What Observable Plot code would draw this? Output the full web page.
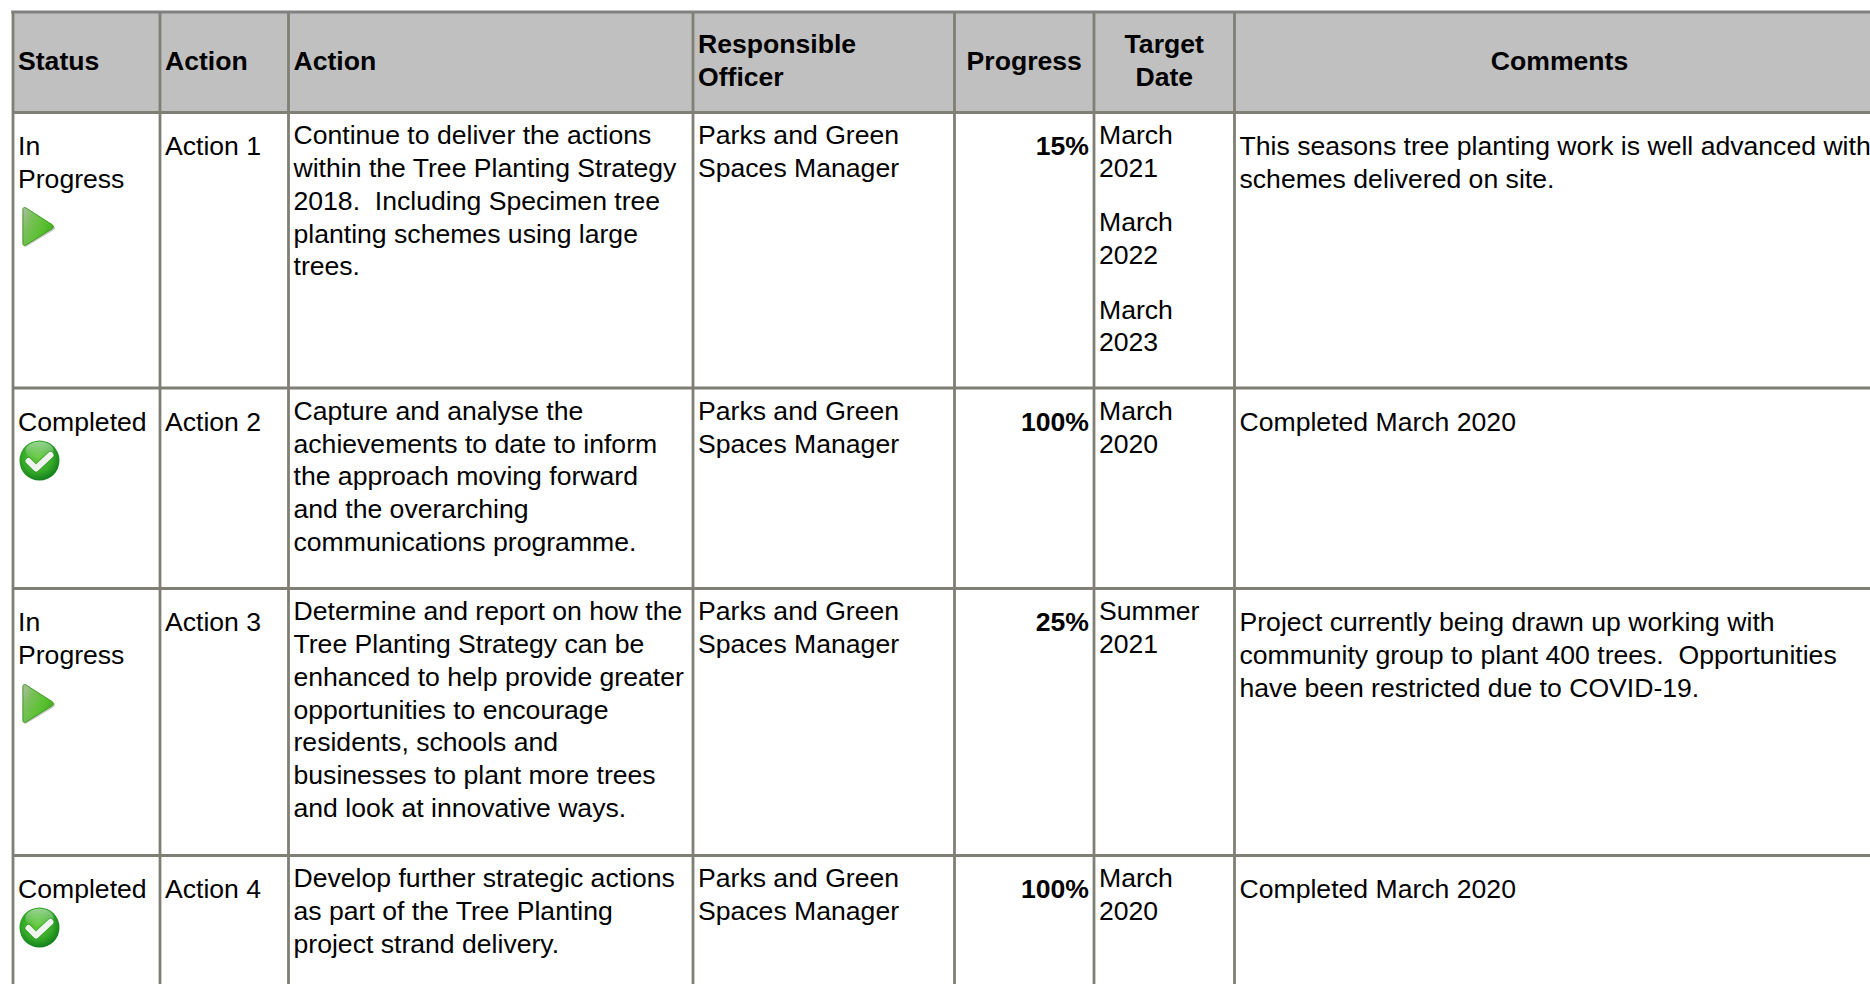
<!DOCTYPE html>
<html><head><meta charset="utf-8">
<script src="https://cdn.jsdelivr.net/npm/d3@7"></script>
<script src="https://cdn.jsdelivr.net/npm/@observablehq/plot@0.6"></script>
<style>html,body{margin:0;padding:0;background:#fff;overflow:hidden}svg{display:block}</style>
</head><body><div id="chart"></div>
<script>
const headers = ["Status","Action","Action","Responsible\nOfficer","Progress","Target\nDate","Comments"];
const statuses = ["In\nProgress","Completed","In\nProgress","Completed"];
const actionIds = ["Action 1","Action 2","Action 3","Action 4"];
const descriptions = [
 "Continue to deliver the actions\nwithin the Tree Planting Strategy\n2018.  Including Specimen tree\nplanting schemes using large\ntrees.",
 "Capture and analyse the\nachievements to date to inform\nthe approach moving forward\nand the overarching\ncommunications programme.",
 "Determine and report on how the\nTree Planting Strategy can be\nenhanced to help provide greater\nopportunities to encourage\nresidents, schools and\nbusinesses to plant more trees\nand look at innovative ways.",
 "Develop further strategic actions\nas part of the Tree Planting\nproject strand delivery."];
const officers = ["Parks and Green\nSpaces Manager","Parks and Green\nSpaces Manager","Parks and Green\nSpaces Manager","Parks and Green\nSpaces Manager"];
const progress = ["15%","100%","25%","100%"];
const targetDates = [["March\n2021","March\n2022","March\n2023"],["March\n2020"],["Summer\n2021"],["March\n2020"]];
const comments = [
 "This seasons tree planting work is well advanced with\nschemes delivered on site.",
 "Completed March 2020",
 "Project currently being drawn up working with\ncommunity group to plant 400 trees.  Opportunities\nhave been restricted due to COVID-19.",
 "Completed March 2020"];

// layout of the table grid
const colEdges = [12.5,159.5,288,692.5,954,1093.5,1234,1884];
const rowEdges = [11.5,112,387.5,588,855,1000];
const FS = 26.6, LH = 32.8;
const lh = LH/FS;
const W = 1870, H = 984;

const triangleSvg = `<svg xmlns="http://www.w3.org/2000/svg" viewBox="0 0 36 44"><defs><linearGradient id="g" x1="0" y1="0" x2="1" y2="0.55"><stop offset="0" stop-color="#b3bca9"/><stop offset="0.3" stop-color="#7cc05e"/><stop offset="0.75" stop-color="#57c02c"/><stop offset="1" stop-color="#46ad24"/></linearGradient></defs><path d="M5 4 Q3.5 3 3.5 5.5 L3.5 39.5 Q3.5 42.2 6 41 L33.5 24.4 Q35.6 22.6 33.5 21 Z" fill="#a9a9a9" opacity=".65"/><path d="M5.4 2.4 Q2.4 1 2.4 4.4 L2.4 37.8 Q2.4 41 5.4 39.6 L31.8 23.2 Q34.2 21.2 31.8 19.2 Z" fill="url(#g)" stroke="#3f9a22" stroke-width="1"/></svg>`;
const checkSvg = `<svg xmlns="http://www.w3.org/2000/svg" viewBox="0 0 42 42"><defs><radialGradient id="c" cx="0.45" cy="0.42" r="0.62"><stop offset="0" stop-color="#66cc3e"/><stop offset="0.6" stop-color="#35aa28"/><stop offset="1" stop-color="#0c781c"/></radialGradient><linearGradient id="h" x1="0" y1="0" x2="0" y2="1"><stop offset="0" stop-color="#fff" stop-opacity=".5"/><stop offset="1" stop-color="#fff" stop-opacity="0"/></linearGradient></defs><circle cx="21" cy="21" r="20" fill="url(#c)"/><ellipse cx="21" cy="11" rx="14" ry="9" fill="url(#h)"/><path d="M10 21.5 L17.5 29 L32 15.5" fill="none" stroke="#0c6a18" stroke-opacity=".35" stroke-width="7.4" stroke-linecap="round" stroke-linejoin="round"/><path d="M10 21.5 L17.5 29 L32 15.5" fill="none" stroke="#f0f4ee" stroke-width="6" stroke-linecap="round" stroke-linejoin="round"/></svg>`;
const uri = s => "data:image/svg+xml;charset=utf-8," + encodeURIComponent(s);

// Top of the first line of each kind of cell, relative to the row's top edge
const inset = {tall: 19.3, mid: 8.5};
const pad = 5;

const headerCells = headers.map((text,i)=>({
  text, i,
  x: i<4 ? colEdges[i] : (colEdges[i]+colEdges[i+1])/2,
  anchor: i<4 ? "start" : "middle",
  y: (rowEdges[0]+rowEdges[1])/2 - 3
}));
const cells = [];
statuses.forEach((_,r)=>{
  const top = rowEdges[r+1];
  cells.push({x:colEdges[0],y:top+inset.tall,text:statuses[r]});
  cells.push({x:colEdges[1],y:top+inset.tall,text:actionIds[r]});
  cells.push({x:colEdges[2],y:top+inset.mid,text:descriptions[r]});
  cells.push({x:colEdges[3],y:top+inset.mid,text:officers[r]});
  targetDates[r].forEach((d,k)=>cells.push({x:colEdges[5],y:top+inset.mid+k*87.2,text:d}));
  cells.push({x:colEdges[6],y:top+inset.tall,text:comments[r]});
});
const progressCells = progress.map((text,r)=>({x:colEdges[5],y:rowEdges[r+1]+inset.tall,text}));
const icons = [
 {x:38,y:227,w:36,h:44,src:uri(triangleSvg)},
 {x:39,y:460,w:42,h:42,src:uri(checkSvg)},
 {x:38,y:704,w:36,h:44,src:uri(triangleSvg)},
 {x:39,y:927,w:42,h:42,src:uri(checkSvg)}];

const gridColor = "#7f7f75";
const chart = Plot.plot({
  width:W,height:H,margin:0,
  x:{domain:[0,W],range:[0,W],axis:null},
  y:{domain:[0,H],range:[0,H],axis:null},
  style:{background:"#fff",fontFamily:"'Liberation Sans',Arial,sans-serif"},
  marks:[
    Plot.rect([0],{x1:()=>colEdges[0],x2:()=>W,y1:()=>rowEdges[0],y2:()=>rowEdges[1],fill:"#c0c0c0"}),
    Plot.ruleX(colEdges.slice(0,7),{y1:rowEdges[0],y2:H,stroke:gridColor,strokeWidth:2.8}),
    Plot.ruleY(rowEdges.slice(1,5),{x1:colEdges[0],x2:W,stroke:gridColor,strokeWidth:3}),
    Plot.ruleY([rowEdges[0]],{x1:colEdges[0]-1.3,x2:W,stroke:"#808080",strokeWidth:3}),
    Plot.text(headerCells.filter(d=>d.anchor=="start"),{x:"x",y:"y",text:"text",dx:pad,textAnchor:"start",lineAnchor:"middle",lineHeight:lh,fontSize:FS,fontWeight:"bold",fill:"#000"}),
    Plot.text(headerCells.filter(d=>d.anchor=="middle"),{x:"x",y:"y",text:"text",textAnchor:"middle",lineAnchor:"middle",lineHeight:lh,fontSize:FS,fontWeight:"bold",fill:"#000"}),
    Plot.text(cells,{x:"x",y:"y",text:"text",dx:pad,textAnchor:"start",lineAnchor:"top",lineHeight:lh,fontSize:FS,fill:"#000"}),
    Plot.text(progressCells,{x:"x",y:"y",text:"text",dx:-5,textAnchor:"end",lineAnchor:"top",lineHeight:lh,fontSize:FS,fontWeight:"bold",fill:"#000"}),
    Plot.image(icons,{x:"x",y:"y",width:"w",height:"h",src:"src"})
  ]
});
document.getElementById("chart").append(chart);
</script></body></html>
